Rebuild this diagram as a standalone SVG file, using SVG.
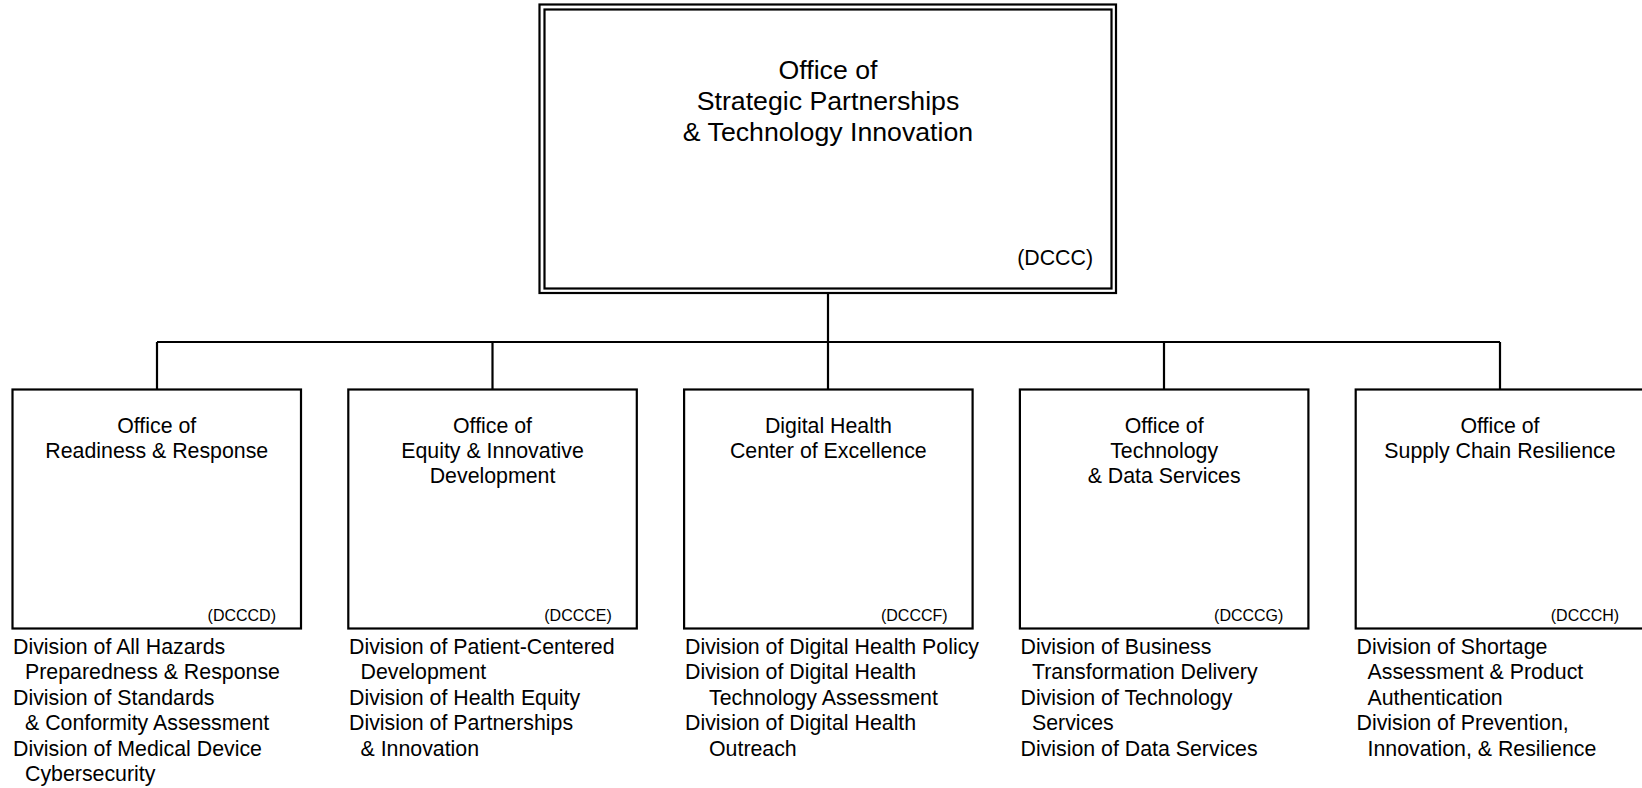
<svg xmlns="http://www.w3.org/2000/svg" width="1642" height="788" viewBox="0 0 1642 788">
<style>
  text { font-family: "Liberation Sans", Arial, sans-serif; fill: #000; }
  .box { fill: #fff; stroke: #000; stroke-width: 2.2; }
  .top { fill: none; stroke: #000; stroke-width: 2.2; }
  .conn { fill: none; stroke: #000; stroke-width: 2.2; }
  .t1 { font-size: 26.7px; text-anchor: middle; }
  .c1 { font-size: 21.33px; text-anchor: end; }
  .t2 { font-size: 21.33px; text-anchor: middle; }
  .c2 { font-size: 16px; text-anchor: end; }
  .d { font-size: 21.33px; }
</style>
<rect width="1642" height="788" fill="#fff"/>
<g id="connectors">
  <path class="conn" d="M828,293 V342 M157,342 H1500 M157,342 V389.5 M492.5,342 V389.5 M828,342 V389.5 M1164,342 V389.5 M1500,342 V389.5"/>
</g>
<g id="node-dccc">
  <rect class="top" x="539.5" y="4.5" width="576.5" height="288.5"/>
  <rect class="top" x="544.5" y="9.5" width="567" height="279"/>
  <text class="t1" x="828" y="78.5">Office of</text>
  <text class="t1" x="828" y="109.5">Strategic Partnerships</text>
  <text class="t1" x="828" y="140.5">&amp; Technology Innovation</text>
  <text class="c1" x="1093" y="265">(DCCC)</text>
</g>
<g id="node-dcccd">
  <rect class="box" x="12.5" y="389.5" width="288.5" height="239"/>
  <text class="t2" x="156.75" y="432.7">Office of</text>
  <text class="t2" x="156.75" y="457.7">Readiness &amp; Response</text>
  <text class="c2" x="276" y="621">(DCCCD)</text>
  <text class="d" x="13" y="653.5">Division of All Hazards</text>
  <text class="d" x="25" y="679">Preparedness &amp; Response</text>
  <text class="d" x="13" y="704.5">Division of Standards</text>
  <text class="d" x="25" y="730">&amp; Conformity Assessment</text>
  <text class="d" x="13" y="755.5">Division of Medical Device</text>
  <text class="d" x="25" y="781">Cybersecurity</text>
</g>
<g id="node-dccce">
  <rect class="box" x="348.3" y="389.5" width="288.5" height="239"/>
  <text class="t2" x="492.55" y="432.7">Office of</text>
  <text class="t2" x="492.55" y="457.7">Equity &amp; Innovative</text>
  <text class="t2" x="492.55" y="482.7">Development</text>
  <text class="c2" x="611.8" y="621">(DCCCE)</text>
  <text class="d" x="349" y="653.5">Division of Patient-Centered</text>
  <text class="d" x="360.5" y="679">Development</text>
  <text class="d" x="349" y="704.5">Division of Health Equity</text>
  <text class="d" x="349" y="730">Division of Partnerships</text>
  <text class="d" x="360.5" y="755.5">&amp; Innovation</text>
</g>
<g id="node-dcccf">
  <rect class="box" x="684.1" y="389.5" width="288.5" height="239"/>
  <text class="t2" x="828.35" y="432.7">Digital Health</text>
  <text class="t2" x="828.35" y="457.7">Center of Excellence</text>
  <text class="c2" x="947.6" y="621">(DCCCF)</text>
  <text class="d" x="685" y="653.5">Division of Digital Health Policy</text>
  <text class="d" x="685" y="679">Division of Digital Health</text>
  <text class="d" x="709" y="704.5">Technology Assessment</text>
  <text class="d" x="685" y="730">Division of Digital Health</text>
  <text class="d" x="709" y="755.5">Outreach</text>
</g>
<g id="node-dcccg">
  <rect class="box" x="1019.9" y="389.5" width="288.5" height="239"/>
  <text class="t2" x="1164.15" y="432.7">Office of</text>
  <text class="t2" x="1164.15" y="457.7">Technology</text>
  <text class="t2" x="1164.15" y="482.7">&amp; Data Services</text>
  <text class="c2" x="1283.4" y="621">(DCCCG)</text>
  <text class="d" x="1020.5" y="653.5">Division of Business</text>
  <text class="d" x="1032" y="679">Transformation Delivery</text>
  <text class="d" x="1020.5" y="704.5">Division of Technology</text>
  <text class="d" x="1032" y="730">Services</text>
  <text class="d" x="1020.5" y="755.5">Division of Data Services</text>
</g>
<g id="node-dccch">
  <rect class="box" x="1355.7" y="389.5" width="288.5" height="239"/>
  <text class="t2" x="1499.95" y="432.7">Office of</text>
  <text class="t2" x="1499.95" y="457.7">Supply Chain Resilience</text>
  <text class="c2" x="1619.2" y="621">(DCCCH)</text>
  <text class="d" x="1356.5" y="653.5">Division of Shortage</text>
  <text class="d" x="1367.5" y="679">Assessment &amp; Product</text>
  <text class="d" x="1367.5" y="704.5">Authentication</text>
  <text class="d" x="1356.5" y="730">Division of Prevention,</text>
  <text class="d" x="1367.5" y="755.5">Innovation, &amp; Resilience</text>
</g>
</svg>
